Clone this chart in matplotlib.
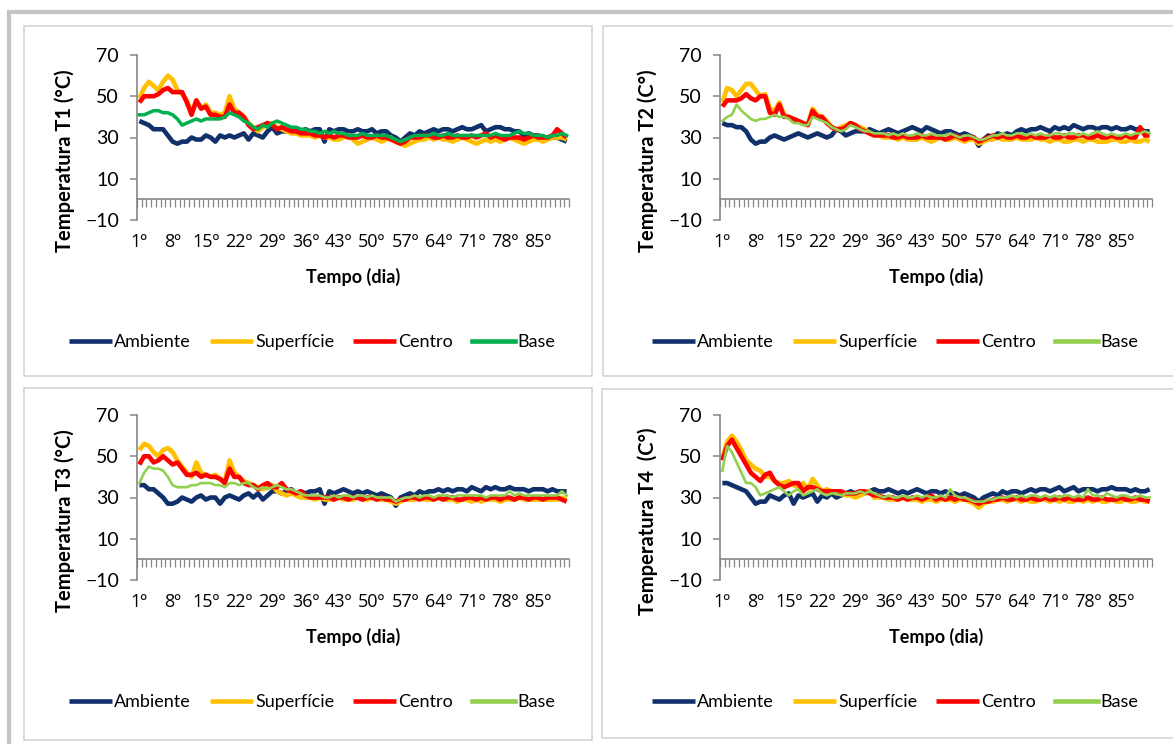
import numpy as np
import matplotlib
matplotlib.use("Agg")
import matplotlib.pyplot as plt
from matplotlib.patches import Rectangle

plt.rcParams['font.family'] = ['Lato', 'DejaVu Sans']

# days 1..91, tick labels every 7 days
tick_days = [1, 8, 15, 22, 29, 36, 43, 50, 57, 64, 71, 78, 85]
tick_labels = [f"{d}º" for d in tick_days]
series_names = ["Ambiente", "Superfície", "Centro", "Base"]

# T1
amb1 = [38,37,36,34,34,34,31,28,27,28,28,30,29,29,31,30,28,31,30,31,30,31,32,29,32,31,30,33,35,32,
        33,33,34,34,33,34,33,34,34,28,34,33,34,34,33,33,34,33,33,34,32,33,33,31,30,28,30,32,31,33,
        32,33,34,33,34,34,33,34,35,34,34,35,36,33,34,35,35,34,34,33,33,31,32,31,31,30,30,30,30,29,28]
sup1 = [49,54,57,55,53,57,60,58,53,51,48,42,48,44,46,42,42,41,42,50,44,42,40,37,35,33,35,36,37,35,
        34,33,32,32,31,31,31,30,31,30,30,29,29,30,31,29,27,28,29,30,29,28,29,30,28,27,26,27,28,29,
        29,30,29,30,29,29,28,29,30,29,28,27,28,29,28,29,28,29,30,29,28,27,28,29,29,28,29,30,30,30,29]
cen1 = [47,50,50,50,51,53,54,52,52,52,47,41,48,44,45,41,41,40,40,46,42,42,40,36,34,35,36,37,36,34,
        35,34,33,33,32,32,32,31,31,30,31,30,31,31,30,30,30,31,30,30,31,30,30,29,28,27,28,30,30,30,
        31,31,30,30,31,30,30,31,30,30,31,30,31,32,30,31,30,29,30,30,30,29,30,31,30,30,30,31,34,32,30]
base1 = [41,41,42,43,43,42,42,41,39,36,37,38,39,38,39,39,39,39,40,42,41,40,38,37,35,34,36,35,37,38,
         37,36,35,35,34,34,33,33,32,33,32,33,32,32,31,31,31,32,31,31,31,31,31,30,29,28,29,30,31,31,
         31,31,32,31,31,32,31,31,31,31,31,31,31,31,31,32,31,31,31,32,33,32,32,31,31,31,30,31,31,32,31]

# T2
amb2 = [37,36,36,35,35,33,29,27,28,28,30,31,30,29,30,31,32,31,30,31,32,31,30,31,34,33,31,32,33,33,
        33,34,33,32,33,34,33,32,33,34,35,34,33,35,34,33,32,33,33,32,31,32,31,30,26,29,31,30,32,31,
        32,31,33,34,33,34,34,35,34,33,35,34,35,34,36,35,34,35,35,34,35,35,34,35,34,34,35,34,34,33,33]
sup2 = [47,54,53,50,53,56,56,53,50,51,44,43,47,41,40,39,38,37,36,44,41,40,38,35,34,35,36,37,36,35,
        34,32,31,31,30,30,30,29,30,29,29,29,30,29,28,29,30,29,29,30,29,28,29,29,27,28,29,29,30,29,
        29,29,30,29,29,29,30,29,29,28,29,29,28,28,29,29,28,29,29,28,28,28,29,29,28,28,29,28,28,29,28]
cen2 = [45,48,48,48,49,51,49,48,50,50,42,41,46,40,40,39,38,37,36,43,40,40,37,35,34,34,35,37,36,34,
        33,32,31,31,31,31,30,30,31,30,30,30,31,30,30,30,30,29,30,31,30,29,30,30,28,29,30,31,30,31,
        30,30,31,30,30,31,30,30,30,31,30,30,31,30,30,31,31,30,30,31,30,30,31,30,30,31,30,30,35,31,31]
base2 = [38,40,41,46,43,41,39,38,39,39,40,41,40,40,39,37,37,36,36,40,39,38,37,35,34,33,34,36,35,34,
         33,33,32,32,32,31,32,31,32,31,31,32,31,31,32,31,31,31,32,31,30,31,31,30,29,29,30,31,31,32,
         31,31,32,32,31,32,31,32,31,31,32,32,31,32,32,31,32,31,32,33,32,31,32,31,31,32,31,32,32,33,32]

# T3
amb3 = [36,36,34,34,32,30,27,27,28,30,29,28,30,31,29,30,30,27,30,31,30,29,31,32,30,32,29,31,33,33,
        32,33,34,32,33,32,33,33,34,27,33,32,33,34,33,32,33,32,33,32,31,32,31,30,26,30,31,32,31,33,
        32,33,33,34,33,34,33,34,34,33,35,34,33,35,34,35,34,34,35,34,34,34,33,34,34,34,33,34,33,33,33]
sup3 = [53,56,55,52,50,53,54,52,48,45,42,40,47,42,41,40,41,39,38,48,42,40,38,37,36,35,34,35,36,33,
        32,31,32,31,30,30,30,29,30,29,29,29,30,29,29,29,30,29,29,30,29,29,29,28,27,28,29,29,29,30,
        29,29,29,30,29,29,29,28,29,29,28,29,28,29,29,29,28,29,29,29,30,29,29,29,29,29,29,29,29,30,29]
cen3 = [46,50,50,47,48,50,48,46,47,44,41,41,42,40,41,40,40,39,37,44,40,40,37,36,36,34,36,37,35,35,
        37,34,33,32,33,31,30,30,30,30,30,29,30,30,29,30,30,29,30,30,29,30,29,29,28,29,29,30,30,29,
        30,30,29,30,29,30,30,29,29,30,30,29,30,29,30,30,29,30,30,29,30,30,29,30,30,29,30,30,30,29,28]
base3 = [37,42,45,44,44,43,40,36,35,35,35,36,36,37,37,37,36,36,35,37,37,36,37,37,35,34,35,34,35,36,
         35,34,34,33,32,31,31,31,31,30,30,31,30,31,31,30,31,31,30,31,30,30,30,30,28,29,30,30,31,30,
         31,31,30,31,31,31,30,31,31,31,31,31,31,30,31,31,31,31,33,31,32,31,31,31,31,31,31,31,31,33,31]

# T4
amb4 = [37,37,36,35,34,33,30,27,28,28,31,30,29,31,32,27,31,30,31,32,28,31,30,32,30,31,32,33,32,33,
        32,33,34,33,33,34,33,32,33,32,33,34,33,32,33,33,32,33,32,32,31,32,31,30,28,30,31,32,31,33,
        32,33,33,32,33,34,33,34,34,33,34,35,33,34,35,33,34,34,34,33,34,34,35,34,34,34,33,34,33,33,34]
sup4 = [49,57,60,57,53,48,46,44,43,40,40,38,37,37,38,36,35,37,34,39,36,33,34,33,32,32,31,31,30,31,
        32,33,30,30,30,29,29,29,30,29,29,29,28,29,29,28,29,29,29,28,29,29,28,27,25,27,28,28,29,29,
        28,29,29,28,29,28,28,29,29,28,29,28,29,28,28,29,28,29,28,29,28,28,29,28,28,29,28,28,29,28,28]
cen4 = [48,55,58,54,50,46,42,40,38,41,42,38,36,35,36,37,37,33,35,35,34,33,33,33,33,33,32,32,32,33,
        33,32,31,31,30,30,30,29,30,29,30,30,29,30,31,29,30,29,30,29,30,29,29,28,27,28,28,29,29,30,
        29,29,30,29,29,30,29,29,30,29,29,30,29,30,29,29,29,30,29,29,30,29,29,29,30,29,29,30,29,29,28]
base4 = [43,55,52,47,42,37,37,35,31,32,33,34,35,33,31,33,34,31,32,33,34,32,31,32,32,31,32,32,32,33,
         32,33,32,31,30,31,30,30,31,30,30,31,30,31,30,30,31,30,34,31,30,30,29,28,28,28,29,29,30,30,
         30,31,30,31,30,31,31,30,31,30,31,30,31,31,30,31,30,34,31,31,30,32,31,30,31,31,30,30,31,30,30]

panels = [
    ("Temperatura T1 (°C)", [amb1, sup1, cen1, base1], "#00b050"),
    ("Temperatura T2 (C°)", [amb2, sup2, cen2, base2], "#92d050"),
    ("Temperatura T3 (°C)", [amb3, sup3, cen3, base3], "#92d050"),
    ("Temperatura T4  (C°)", [amb4, sup4, cen4, base4], "#92d050"),
]

W, H = 1173, 744
fig = plt.figure(figsize=(W / 100, H / 100), dpi=100)

def fx(px):
    return px / W

def fy(py):
    return 1 - py / H

# outer frame and panel frames
fig.add_artist(Rectangle((fx(9), fy(800)), fx(1300), 788 / H, transform=fig.transFigure,
                         fill=False, edgecolor="#c4c4c4", lw=3))
frames = [(24, 26, 592, 376), (603, 26, 1190, 376), (24, 388, 592, 740), (602, 389, 1190, 738)]
for x0, y0, x1, y1 in frames:
    fig.add_artist(Rectangle((fx(x0), fy(y1)), fx(x1 - x0), (y1 - y0) / H,
                             transform=fig.transFigure, fill=False, edgecolor="#d4d4d4", lw=1.2))

# axes positions in pixels: left, top
origins = [(137, 55), (720, 55), (137, 415), (720, 415)]
ax_w, ax_h = 432, 165
colors = ["#10306b", "#ffc000", "#ff0000"]

for (ylabel, data, base_color), (left, top), i in zip(panels, origins, range(4)):
    ax = fig.add_axes([fx(left), fy(top + ax_h), fx(ax_w), ax_h / H])
    for name, vals, c in zip(series_names[:3], data[:3], colors):
        ax.plot(range(1, len(vals) + 1), vals, color=c, lw=3.3, label=name,
                solid_joinstyle="round", solid_capstyle="butt")
    base_lw = 2.5 if i == 0 else 1.9
    ax.plot(range(1, len(data[3]) + 1), data[3], color=base_color, lw=base_lw, label="Base",
            solid_joinstyle="round")

    n = len(data[0])
    ax.set_xlim(0.5, n + 0.5)
    ax.set_ylim(-10, 70)
    ax.set_yticks([-10, 10, 30, 50, 70])
    for s in ["top", "right"]:
        ax.spines[s].set_visible(False)
    ax.spines["bottom"].set_position(("data", 0))
    for s in ["left", "bottom"]:
        ax.spines[s].set_color("#868686")
        ax.spines[s].set_linewidth(1.2)
    ax.set_xticks(np.arange(0.5, n + 1, 1.0))
    ax.set_xticklabels([])
    ax.set_xticks(tick_days, tick_labels, minor=True)
    for t in ax.get_xticklabels(minor=True):
        t.set_family(["Open Sans", "DejaVu Sans"])
    ax.tick_params(axis="x", which="major", length=6, width=0.9, color="#868686", direction="out")
    ax.tick_params(axis="x", which="minor", length=0, pad=24, labelsize=13)
    ax.tick_params(axis="y", length=5, width=1.1, color="#868686", pad=8, labelsize=14)

    ax.set_xlabel("Tempo (dia)", fontsize=13, fontweight="bold")
    ax.xaxis.set_label_coords(0.5, -0.29)
    fig.text(fx(left - 72), fy(top + 106), ylabel, rotation=90, ha="center", va="center",
             fontsize=14.5, fontweight="bold")

    ax.legend(loc="center", bbox_to_anchor=(fx(left + 175), fy(top + 287)),
              bbox_transform=fig.transFigure, ncol=4, frameon=False, fontsize=13,
              handlelength=2.4, handletextpad=0.1, columnspacing=1.05)
    for line in ax.get_legend().get_lines():
        line.set_linewidth(3.3)

fig.savefig("out.png", dpi=100, facecolor="white")
